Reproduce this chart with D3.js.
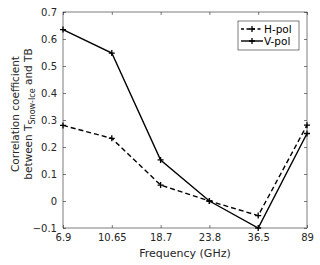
<!DOCTYPE html>
<html>
<head>
<meta charset="utf-8">
<script src="https://cdn.jsdelivr.net/npm/d3@7"></script>
<style>
body { margin: 0; background: #fff; }
text { font-family: "DejaVu Sans", sans-serif; }
</style>
</head>
<body>
<div id="chart"></div>
<script>
// datos
const freqs = ["6.9", "10.65", "18.7", "23.8", "36.5", "89"];
const hPol = [0.28, 0.232, 0.059, 0.0, -0.054, 0.281];
const vPol = [0.635, 0.548, 0.152, 0.0, -0.1, 0.25];
const yTicks = [-0.1, 0, 0.1, 0.2, 0.3, 0.4, 0.5, 0.6, 0.7];

const width = 320;
const height = 265;
const margin = {top: 12, right: 13, bottom: 37, left: 63};

let svg = d3.select("#chart").append("svg")
  .attr("width", width)
  .attr("height", height);

let xScale = d3.scalePoint().domain(freqs).range([margin.left, width - margin.right]);
let yScale = d3.scaleLinear().domain([-0.1, 0.7]).range([height - margin.bottom, margin.top]);

const axisColor = "#262626";

// caja
svg.append("rect")
  .attr("x", margin.left)
  .attr("y", margin.top)
  .attr("width", width - margin.left - margin.right)
  .attr("height", height - margin.top - margin.bottom)
  .attr("fill", "none")
  .attr("stroke", axisColor)
  .attr("stroke-width", 0.6);

// ejes
let xAxis = svg.append("g")
  .attr("transform", `translate(0,${height - margin.bottom})`)
  .call(d3.axisBottom(xScale).tickSizeInner(-3).tickSizeOuter(0).tickPadding(6));
let xAxisTop = svg.append("g")
  .attr("transform", `translate(0,${margin.top})`)
  .call(d3.axisTop(xScale).tickSizeInner(-3).tickSizeOuter(0).tickFormat(""));
let yAxis = svg.append("g")
  .attr("transform", `translate(${margin.left},0)`)
  .call(d3.axisLeft(yScale).tickValues(yTicks).tickSizeInner(-3).tickSizeOuter(0).tickPadding(6)
    .tickFormat(d => d3.format("")(Math.round(d * 10) / 10)));
let yAxisRight = svg.append("g")
  .attr("transform", `translate(${width - margin.right},0)`)
  .call(d3.axisRight(yScale).tickValues(yTicks).tickSizeInner(-3).tickSizeOuter(0).tickFormat(""));

for (let a of [xAxis, xAxisTop, yAxis, yAxisRight]) {
  a.select(".domain").remove();
  a.selectAll("line").attr("stroke", axisColor).attr("stroke-width", 0.6);
  a.selectAll("text").attr("fill", axisColor).style("font-size", "10px");
}

// lineas
let line = d3.line()
  .x((d, i) => xScale(freqs[i]))
  .y(d => yScale(d));

function plus(g, vals) {
  g.selectAll(null).data(vals).enter().append("path")
    .attr("d", (d, i) => {
      let x = xScale(freqs[i]), y = yScale(d);
      return `M${x - 3},${y}H${x + 3}M${x},${y - 3}V${y + 3}`;
    })
    .attr("stroke", "#000")
    .attr("stroke-width", 1.3);
}

svg.append("path")
  .datum(hPol)
  .attr("d", line)
  .attr("fill", "none")
  .attr("stroke", "#000")
  .attr("stroke-width", 1.4)
  .attr("stroke-dasharray", "5,3");
plus(svg.append("g"), hPol);

svg.append("path")
  .datum(vPol)
  .attr("d", line)
  .attr("fill", "none")
  .attr("stroke", "#000")
  .attr("stroke-width", 1.4);
plus(svg.append("g"), vPol);

// leyenda
let legend = svg.append("g").attr("transform", "translate(238,21)");
legend.append("rect")
  .attr("width", 61).attr("height", 29)
  .attr("fill", "#fff")
  .attr("stroke", axisColor)
  .attr("stroke-width", 0.6);
let legendItems = [{name: "H-pol", dash: "3,2.5"}, {name: "V-pol", dash: null}];
legendItems.forEach((it, i) => {
  let y = 8 + i * 12;
  legend.append("line")
    .attr("x1", 3).attr("x2", 25).attr("y1", y).attr("y2", y)
    .attr("stroke", "#000").attr("stroke-width", 1.4)
    .attr("stroke-dasharray", it.dash);
  legend.append("path")
    .attr("d", `M11,${y}H17M14,${y - 3}V${y + 3}`)
    .attr("stroke", "#000").attr("stroke-width", 1.3);
  legend.append("text")
    .attr("x", 26).attr("y", y + 3.5)
    .style("font-size", "10.5px")
    .attr("fill", "#000")
    .text(it.name);
});

// titulos de ejes
svg.append("text")
  .attr("x", (margin.left + width - margin.right) / 2)
  .attr("y", 257)
  .attr("text-anchor", "middle")
  .style("font-size", "11px")
  .attr("fill", axisColor)
  .text("Frequency (GHz)");

let yLabel = svg.append("text")
  .attr("transform", "translate(19,114) rotate(-90)")
  .attr("text-anchor", "middle")
  .style("font-size", "10.5px")
  .attr("fill", axisColor);
yLabel.append("tspan").attr("x", 0).attr("dy", 0).text("Correlation coefficient");
let l2 = yLabel.append("tspan").attr("x", 0).attr("dy", 13);
l2.append("tspan").text("between T");
l2.append("tspan").attr("dy", 2.5).style("font-size", "8px").text("Snow-Ice");
l2.append("tspan").attr("dy", -2.5).text(" and TB");
</script>
</body>
</html>
